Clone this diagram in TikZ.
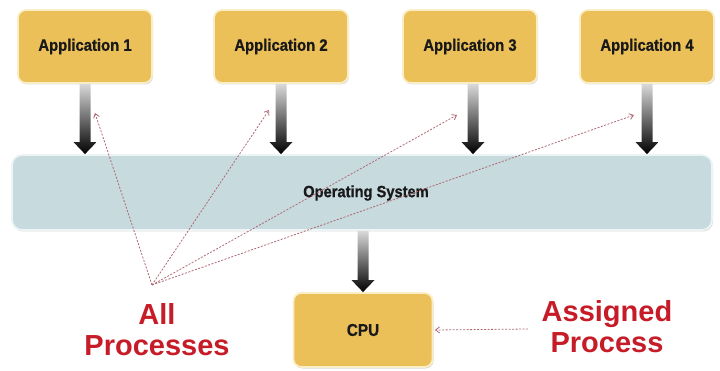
\documentclass[tikz,border=0pt]{standalone}
\usepackage{fontspec}
\setmainfont{Liberation Sans}
\newfontfamily\narrowfont{Liberation Sans}[FakeStretch=0.9,FakeBold=0.8]
\usetikzlibrary{arrows.meta,shadows,calc}
\definecolor{gold}{RGB}{236,192,88}
\definecolor{goldrim}{RGB}{250,238,200}
\definecolor{osblue}{RGB}{199,219,223}
\definecolor{osrim}{RGB}{236,244,246}
\definecolor{procred}{RGB}{198,28,40}
\definecolor{dashred}{RGB}{175,105,115}
\tikzset{
  appbox/.style={rectangle, rounded corners=8pt, fill=gold, draw=goldrim, line width=1.8pt,
    minimum width=134pt, minimum height=73pt, inner sep=0pt,
    drop shadow={opacity=0.3, shadow xshift=1pt, shadow yshift=-1.5pt},
    font=\narrowfont\bfseries\fontsize{16.5}{18}\selectfont, text=black!90},
  osbox/.style={rectangle, rounded corners=10pt, fill=osblue, draw=osrim, line width=1.8pt,
    minimum width=700pt, minimum height=75pt, inner sep=0pt,
    drop shadow={opacity=0.3, shadow xshift=1pt, shadow yshift=-1.5pt}},
  oslabel/.style={font=\narrowfont\bfseries\fontsize{16.3}{17}\selectfont, text=black!90, inner sep=0pt},
  redlabel/.style={font=\bfseries\fontsize{29}{31}\selectfont, text=procred, align=center, inner sep=0pt},
  fatarr/.style={top color=black!15, bottom color=black},
  dasharr/.style={draw=dashred, line width=0.8pt, dash pattern=on 2pt off 1.5pt,
    -{Straight Barb[length=4pt,width=6pt]}},
}
\newcommand\fatarrow[2]{%
  \shade[fatarr] let \p1=(#1), \p2=(#2) in
    (\x1-5.5pt,\y1) -- (\x1-5.5pt,\y2+12pt) -- (\x1-11.5pt,\y2+12pt) -- (\x1,\y2)
    -- (\x1+11.5pt,\y2+12pt) -- (\x1+5.5pt,\y2+12pt) -- (\x1+5.5pt,\y1) -- cycle;}
\begin{document}
\begin{tikzpicture}[x=1pt,y=-1pt]
\useasboundingbox (0,0) rectangle (720,371);
% boxes
\node[appbox] (a1) at (85,46.5) {Application 1};
\node[appbox] (a2) at (281,46.5) {Application 2};
\node[appbox] (a3) at (470,46.5) {Application 3};
\node[appbox] (a4) at (647,46.5) {Application 4};
\node[osbox] (os) at (362,192.5) {};
\node[oslabel] (ostext) at (366,193) {Operating System};
\node[appbox, minimum width=139pt, minimum height=74pt, font=\narrowfont\bfseries\fontsize{17}{18}\selectfont] (cpu) at (363,330) {CPU};
% fat arrows
\fatarrow{a1.south}{a1.south |- os.north}
\fatarrow{a2.south}{a2.south |- os.north}
\fatarrow{[xshift=3pt]a3.south}{[xshift=3pt]a3.south |- os.north}
\fatarrow{a4.south}{a4.south |- os.north}
\fatarrow{os.south -| cpu.north}{cpu.north}
% labels
\node[redlabel] (allp) at (157,330) {All\\Processes};
\node[redlabel] (asgp) at (607,327) {Assigned\\Process};
% dashed arrows
\coordinate (hub) at (152,285);
\coordinate (t1) at (95,113);
\coordinate (t2) at (269,110);
\coordinate (t3) at (457,115);
\coordinate (t4) at (634,115);
\coordinate (asg) at (528,329);
\draw[dasharr] (hub) -- (t1);
\draw[dasharr] (hub) -- (t2);
\draw[dasharr] (hub) -- (t3);
\draw[dasharr] (hub) -- (t4);
\draw[dasharr] (asg) -- ([xshift=1.5pt]cpu.east);
\end{tikzpicture}
\end{document}
